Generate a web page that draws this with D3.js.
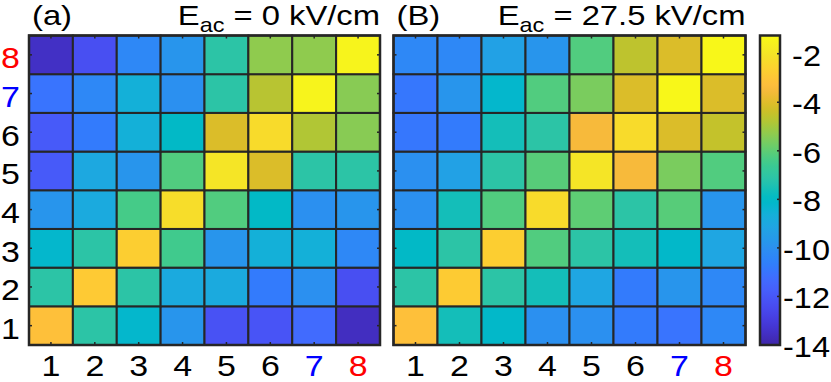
<!DOCTYPE html>
<html>
<head>
<meta charset="utf-8">
<script src="https://cdn.jsdelivr.net/npm/d3@7"></script>
<style>
  body { margin: 0; background: #fff; }
  svg text { font-family: Arial, "Liberation Sans", Helvetica, sans-serif; }
</style>
</head>
<body>
<svg id="chart" width="831" height="382"></svg>
<script>
// tick labels / categories
const levels = [1, 2, 3, 4, 5, 6, 7, 8];
const labelColors = ["#000", "#000", "#000", "#000", "#000", "#000", "#0000ff", "#ff0000"];

// rows go from level 1 (bottom) to level 8 (top), columns 1..8
const panelA = [
  [-3.2, -7.1, -8.2, -9.8, -12.2, -12.1, -11.3, -13.6],
  [-7.1, -2.85, -7.1, -8.9, -8.9, -10.8, -10.0, -12.3],
  [-8.2, -7.1, -2.7, -6.5, -9.8, -8.6, -8.6, -10.3],
  [-9.8, -8.9, -6.4, -2.25, -6.2, -8.0, -10.0, -9.8],
  [-11.9, -9.0, -9.8, -6.2, -2.0, -4.1, -7.1, -7.1],
  [-11.9, -10.8, -8.6, -8.0, -4.1, -2.3, -4.8, -5.4],
  [-11.0, -10.3, -8.6, -10.0, -7.1, -4.7, -1.5, -5.4],
  [-13.5, -12.3, -10.3, -9.8, -7.1, -5.3, -5.3, -1.5]
];

const panelB = [
  [-3.2, -7.6, -8.1, -10.0, -10.0, -10.8, -11.0, -10.3],
  [-7.1, -2.8, -7.1, -7.6, -9.1, -10.8, -9.8, -10.3],
  [-8.0, -7.1, -2.7, -6.2, -7.1, -7.6, -8.1, -9.1],
  [-10.0, -7.6, -6.2, -2.3, -6.0, -7.1, -6.1, -9.8],
  [-10.0, -9.3, -7.1, -6.1, -2.0, -3.5, -5.6, -6.2],
  [-10.9, -10.8, -7.6, -7.1, -3.5, -2.3, -4.1, -4.5],
  [-10.9, -9.8, -8.2, -6.2, -5.6, -4.1, -1.4, -4.1],
  [-10.3, -10.3, -9.3, -9.8, -6.2, -4.6, -4.1, -1.4]
];

const cbarTicks = [-14, -12, -10, -8, -6, -4, -2];
const cbarDomain = [-14, -1.25];

// parula (MATLAB R2017a+), 64 entries
const parula = [
[0.2422,0.1504,0.6603],[0.2504,0.1650,0.7076],[0.2578,0.1818,0.7511],[0.2647,0.1978,0.7952],
[0.2706,0.2147,0.8364],[0.2751,0.2342,0.8710],[0.2783,0.2559,0.8991],[0.2803,0.2782,0.9221],
[0.2813,0.3006,0.9414],[0.2810,0.3228,0.9579],[0.2795,0.3447,0.9717],[0.2760,0.3667,0.9829],
[0.2699,0.3892,0.9906],[0.2602,0.4123,0.9952],[0.2440,0.4358,0.9988],[0.2206,0.4603,0.9973],
[0.1963,0.4847,0.9892],[0.1834,0.5074,0.9798],[0.1786,0.5289,0.9682],[0.1764,0.5499,0.9520],
[0.1687,0.5703,0.9359],[0.1540,0.5902,0.9218],[0.1460,0.6091,0.9079],[0.1380,0.6276,0.8973],
[0.1248,0.6459,0.8883],[0.1113,0.6635,0.8763],[0.0952,0.6798,0.8598],[0.0689,0.6948,0.8394],
[0.0297,0.7082,0.8163],[0.0036,0.7203,0.7917],[0.0067,0.7312,0.7660],[0.0433,0.7411,0.7394],
[0.0964,0.7500,0.7120],[0.1408,0.7584,0.6842],[0.1717,0.7670,0.6554],[0.1938,0.7758,0.6251],
[0.2161,0.7843,0.5923],[0.2470,0.7918,0.5567],[0.2906,0.7973,0.5188],[0.3406,0.8008,0.4789],
[0.3909,0.8029,0.4354],[0.4456,0.8024,0.3909],[0.5044,0.7993,0.3480],[0.5616,0.7942,0.3045],
[0.6174,0.7876,0.2612],[0.6720,0.7793,0.2227],[0.7242,0.7698,0.1910],[0.7738,0.7598,0.1646],
[0.8203,0.7498,0.1535],[0.8634,0.7406,0.1596],[0.9035,0.7330,0.1774],[0.9393,0.7288,0.2100],
[0.9728,0.7298,0.2394],[0.9956,0.7434,0.2371],[0.9970,0.7659,0.2199],[0.9952,0.7893,0.2028],
[0.9892,0.8136,0.1885],[0.9786,0.8386,0.1766],[0.9676,0.8639,0.1643],[0.9610,0.8890,0.1537],
[0.9597,0.9135,0.1423],[0.9628,0.9373,0.1265],[0.9691,0.9606,0.1064],[0.9769,0.9839,0.0805]
].map(c => d3.rgb(c[0] * 255, c[1] * 255, c[2] * 255).formatHex());

const interpParula = d3.interpolateRgbBasis(parula);
const color = d3.scaleSequential(interpParula).domain(cbarDomain).clamp(true);

const svg = d3.select("#chart");
const plotTop = 35.5, plotBottom = 345;
const lineCol = "#262626";
const sx = 1.17;      // the original figure's text is a bit wider than Arial
const labelSize = 29;

// text placed with a horizontal stretch around its anchor point
function wideText(sel, x, y, size, stretch) {
  return sel.append("text")
    .attr("transform", "translate(" + x + "," + y + ") scale(" + (stretch || sx) + ",1)")
    .attr("font-size", size);
}

function drawPanel(data, x0, x1, tag, field, showY) {
  const g = svg.append("g");
  const x = d3.scaleBand().domain(levels).range([x0, x1]);
  const y = d3.scaleBand().domain(levels).range([plotBottom, plotTop]);

  const cells = [];
  data.forEach((row, i) => row.forEach((v, j) => cells.push({ r: levels[i], c: levels[j], v: v })));

  g.selectAll("rect.cell")
    .data(cells)
    .join("rect")
    .attr("class", "cell")
    .attr("x", d => x(d.c))
    .attr("y", d => y(d.r))
    .attr("width", x.bandwidth())
    .attr("height", y.bandwidth())
    .attr("fill", d => color(d.v))
    .attr("stroke", lineCol)
    .attr("stroke-width", 2);

  // inward ticks on all four sides, labels drawn separately
  const tl = 3;
  const ax = g.append("g").attr("stroke", lineCol).attr("stroke-width", 1.5);
  levels.forEach(l => {
    const cx = x(l) + x.bandwidth() / 2, cy = y(l) + y.bandwidth() / 2;
    ax.append("line").attr("x1", cx).attr("x2", cx).attr("y1", plotBottom).attr("y2", plotBottom - tl);
    ax.append("line").attr("x1", cx).attr("x2", cx).attr("y1", plotTop).attr("y2", plotTop + tl);
    ax.append("line").attr("y1", cy).attr("y2", cy).attr("x1", x0).attr("x2", x0 + tl);
    ax.append("line").attr("y1", cy).attr("y2", cy).attr("x1", x1).attr("x2", x1 - tl);
  });

  g.append("rect")
    .attr("x", x0).attr("y", plotTop)
    .attr("width", x1 - x0).attr("height", plotBottom - plotTop)
    .attr("fill", "none").attr("stroke", lineCol).attr("stroke-width", 2.5);

  levels.forEach((l, i) => {
    wideText(g, x(l) + x.bandwidth() / 2, 376, labelSize)
      .attr("text-anchor", "middle")
      .attr("fill", labelColors[i])
      .text(l);
    if (showY) {
      wideText(g, 10.5, y(l) + y.bandwidth() / 2 + 13.5, labelSize)
        .attr("text-anchor", "middle")
        .attr("fill", labelColors[i])
        .text(l);
    }
  });

  wideText(g, x0 + 3, 25, 28).text(tag);

  const t = wideText(g, x1, 25, 28).attr("text-anchor", "end");
  t.append("tspan").text("E");
  t.append("tspan").attr("font-size", 20).attr("dy", 7).text("ac");
  t.append("tspan").attr("dy", -7).text(" = " + field + " kV/cm");
}

drawPanel(panelA, 29, 380, "(a)", "0", true);
drawPanel(panelB, 393.5, 745.5, "(B)", "27.5", false);

// colorbar
const cbX0 = 760, cbX1 = 780;
const cbY = d3.scaleLinear().domain(cbarDomain).range([plotBottom, plotTop]);
const defs = svg.append("defs");
const grad = defs.append("linearGradient")
  .attr("id", "cbgrad")
  .attr("x1", 0).attr("y1", 1).attr("x2", 0).attr("y2", 0);
d3.range(0, 1.0001, 0.02).forEach(s => {
  grad.append("stop")
    .attr("offset", s)
    .attr("stop-color", color(cbarDomain[0] + s * (cbarDomain[1] - cbarDomain[0])));
});
svg.append("rect")
  .attr("x", cbX0).attr("y", plotTop)
  .attr("width", cbX1 - cbX0).attr("height", plotBottom - plotTop)
  .attr("fill", "url(#cbgrad)")
  .attr("stroke", lineCol).attr("stroke-width", 2.5);

svg.append("g")
  .selectAll("line")
  .data(cbarTicks)
  .join("line")
  .attr("x1", cbX1).attr("x2", cbX1 - 3)
  .attr("y1", d => cbY(d)).attr("y2", d => cbY(d))
  .attr("stroke", lineCol).attr("stroke-width", 1.5);

const cbLabels = svg.append("g");
cbarTicks.forEach(v => {
  wideText(cbLabels, 806.5, cbY(v) + 12, labelSize, 1.12)
    .attr("text-anchor", "middle")
    .text("-" + Math.abs(v));
});
</script>
</body>
</html>
